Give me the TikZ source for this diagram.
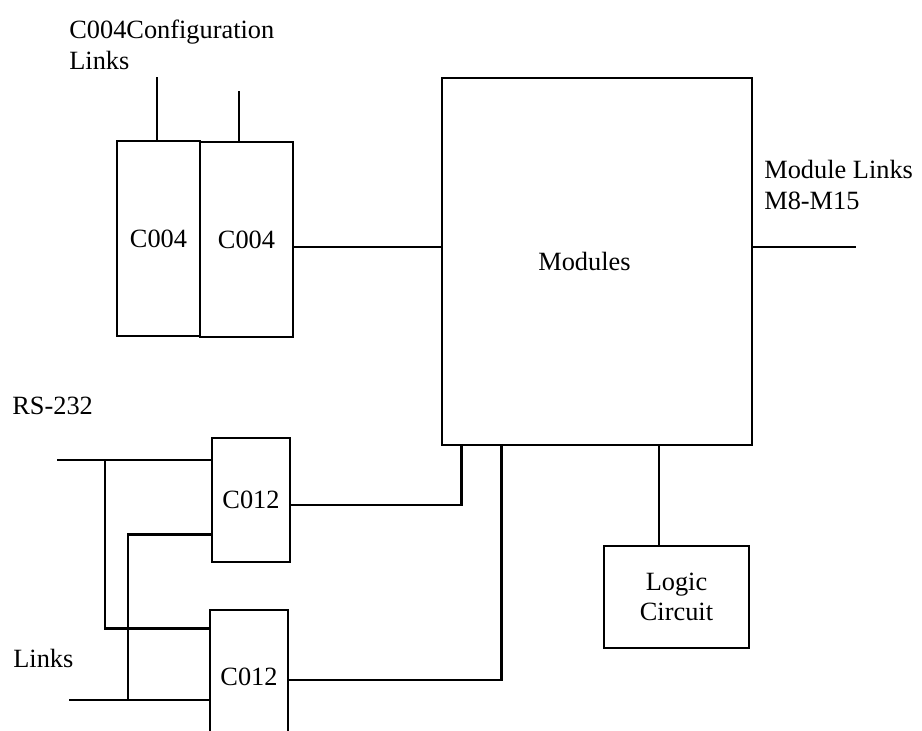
\documentclass[tikz,border=0pt]{standalone}
\usepackage{fontspec}
\setmainfont{Liberation Serif}
\usetikzlibrary{positioning,calc}
\tikzset{
  unit/.style={draw,line width=1.5pt,inner sep=0pt,align=center,
    font=\fontsize{15}{17.5}\selectfont},
  wire/.style={line width=1.5pt},
  lbl/.style={inner sep=0pt,align=left,font=\fontsize{15}{17.5}\selectfont}
}
\begin{document}
\begin{tikzpicture}[x=0.02cm,y=-0.02cm]
        \useasboundingbox (0,0) rectangle (922,730);
        \clip (0,0) rectangle (922,730);
        \node[unit,minimum width=1.66cm,minimum height=3.9cm] (cfgA) at (158.5,238.5) {C004};
        \node[unit,minimum width=1.86cm,minimum height=3.9cm] (cfgB) at (246.5,239.5) {C004};
        \node[unit,minimum width=6.2cm,minimum height=7.34cm] (mods) at (597,261.5) {Modules\hspace{0.5cm}};
        \node[unit,minimum width=1.56cm,minimum height=2.48cm] (sioA) at (251,500) {C012};
        \node[unit,minimum width=1.56cm,minimum height=2.68cm] (sioB) at (249,677) {C012};
        \node[unit,minimum width=2.9cm,minimum height=2.04cm] (logic) at (676.5,597) {Logic\\Circuit};
        \node[lbl,anchor=north west] (cfglbl) at (69,20) {C004Configuration\\Links};
        \node[lbl,anchor=north west] (modlbl) at (764,160) {Module Links\\M8-M15};
        \node[lbl,anchor=base west] (rslbl) at (12,414) {RS-232};
        \node[lbl,anchor=base west] (lklbl) at (13,667) {Links};
        \coordinate (cfgin1) at (157,77);
        \coordinate (cfgin2) at (239,91);
        \coordinate (modout) at (856,247);
        \coordinate (rs) at (57,460);
        \coordinate (lk) at (69,700);
        \coordinate (tapA) at (105,460);
        \coordinate (tapB) at (128,700);
        \draw[wire] (cfgin1) -- (cfgin1 |- cfgA.north);
        \draw[wire] (cfgin2) -- (cfgin2 |- cfgB.north);
        \draw[wire] (cfgB.east |- modout) -- (mods.west |- modout);
        \draw[wire] (mods.east |- modout) -- (modout);
        \draw[wire] (rs) -- (rs -| sioA.west);
        \draw[wire] (lk) -- (lk -| sioB.west);
        \draw[wire] (tapA) |- ([yshift=-0.4cm]sioB.north west);
        \draw[wire] (tapB) |- ([yshift=0.58cm]sioA.south west);
        \draw[wire] ([yshift=-0.1cm]sioA.east) -| ([xshift=0.42cm]mods.south west);
        \draw[wire] ([yshift=-0.06cm]sioB.east) -| ([xshift=1.22cm]mods.south west);
        \draw[wire] ([xshift=1.24cm]mods.south) -- ([xshift=1.24cm]mods.south |- logic.north);
      \end{tikzpicture}
\end{document}
